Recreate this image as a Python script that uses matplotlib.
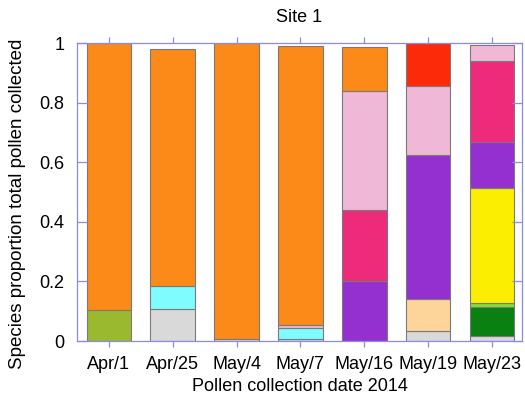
import matplotlib
matplotlib.use("Agg")
import matplotlib.pyplot as plt
import numpy as np
from matplotlib.ticker import FuncFormatter

plt.rcParams['font.family'] = ['Liberation Sans', 'DejaVu Sans']

dates = ["Apr/1", "Apr/25", "May/4", "May/7", "May/16", "May/19", "May/23"]

# Species proportions per collection date (stacked bottom to top)
gray       = [0.000, 0.108, 0.008, 0.008, 0.000, 0.034, 0.017]
olive      = [0.105, 0.000, 0.000, 0.000, 0.000, 0.000, 0.000]
dark_green = [0.000, 0.000, 0.000, 0.000, 0.000, 0.000, 0.098]
lime       = [0.000, 0.000, 0.000, 0.000, 0.000, 0.000, 0.013]
cyan       = [0.000, 0.077, 0.000, 0.035, 0.000, 0.000, 0.000]
peach      = [0.000, 0.000, 0.000, 0.000, 0.000, 0.106, 0.000]
yellow     = [0.000, 0.000, 0.000, 0.000, 0.000, 0.000, 0.386]
purple     = [0.000, 0.000, 0.000, 0.000, 0.200, 0.483, 0.154]
hot_pink   = [0.000, 0.000, 0.000, 0.000, 0.240, 0.000, 0.272]
light_pink = [0.000, 0.000, 0.000, 0.010, 0.399, 0.233, 0.053]
orange     = [0.895, 0.795, 0.992, 0.937, 0.149, 0.000, 0.000]
red        = [0.000, 0.000, 0.000, 0.000, 0.000, 0.144, 0.000]

series = [
    (gray, "#d9d9d9"),
    (olive, "#9ab92e"),
    (dark_green, "#0a7f12"),
    (lime, "#80e030"),
    (cyan, "#7ffcff"),
    (peach, "#fdd49a"),
    (yellow, "#fbee00"),
    (purple, "#9430d0"),
    (hot_pink, "#ee2a7b"),
    (light_pink, "#efb8d6"),
    (orange, "#fb8a18"),
    (red, "#fc2a08"),
]

fig = plt.figure(figsize=(5.25, 4.08), dpi=100)
ax = fig.add_axes([0.1467, 0.164, 0.8474, 0.7306])

x = np.arange(len(dates))
bottom = np.zeros(len(dates))
for vals, col in series:
    v = np.array(vals)
    mask = v > 0
    ax.bar(x[mask], v[mask], bottom=bottom[mask], width=0.70, color=col,
           edgecolor="#7a7a7a", linewidth=0.8)
    bottom += v

ax.set_xlim(-0.5, 6.47)
ax.set_ylim(0, 1)
ax.set_xticks(x)
ax.set_xticklabels(dates)
ax.set_yticks([0, 0.2, 0.4, 0.6, 0.8, 1.0])
ax.yaxis.set_major_formatter(FuncFormatter(lambda v, p: "%g" % v))

spine_col = "#8c8ce6"
for s in ax.spines.values():
    s.set_color(spine_col)
    s.set_linewidth(0.9)
ax.tick_params(axis="x", direction="out", color=spine_col, length=4,
               width=0.9, labelsize=13, top=True, pad=7)
ax.tick_params(axis="y", direction="in", color=spine_col, length=7,
               width=0.9, labelsize=13, right=True, pad=9)

ax.set_title("Site 1", fontsize=13, pad=15)
ax.set_xlabel("Pollen collection date 2014", fontsize=13, labelpad=3)
ax.set_ylabel("Species proportion total pollen collected", fontsize=13.5)
ax.yaxis.set_label_coords(-0.115, 0.461)

fig.savefig("out.png", dpi=100)
